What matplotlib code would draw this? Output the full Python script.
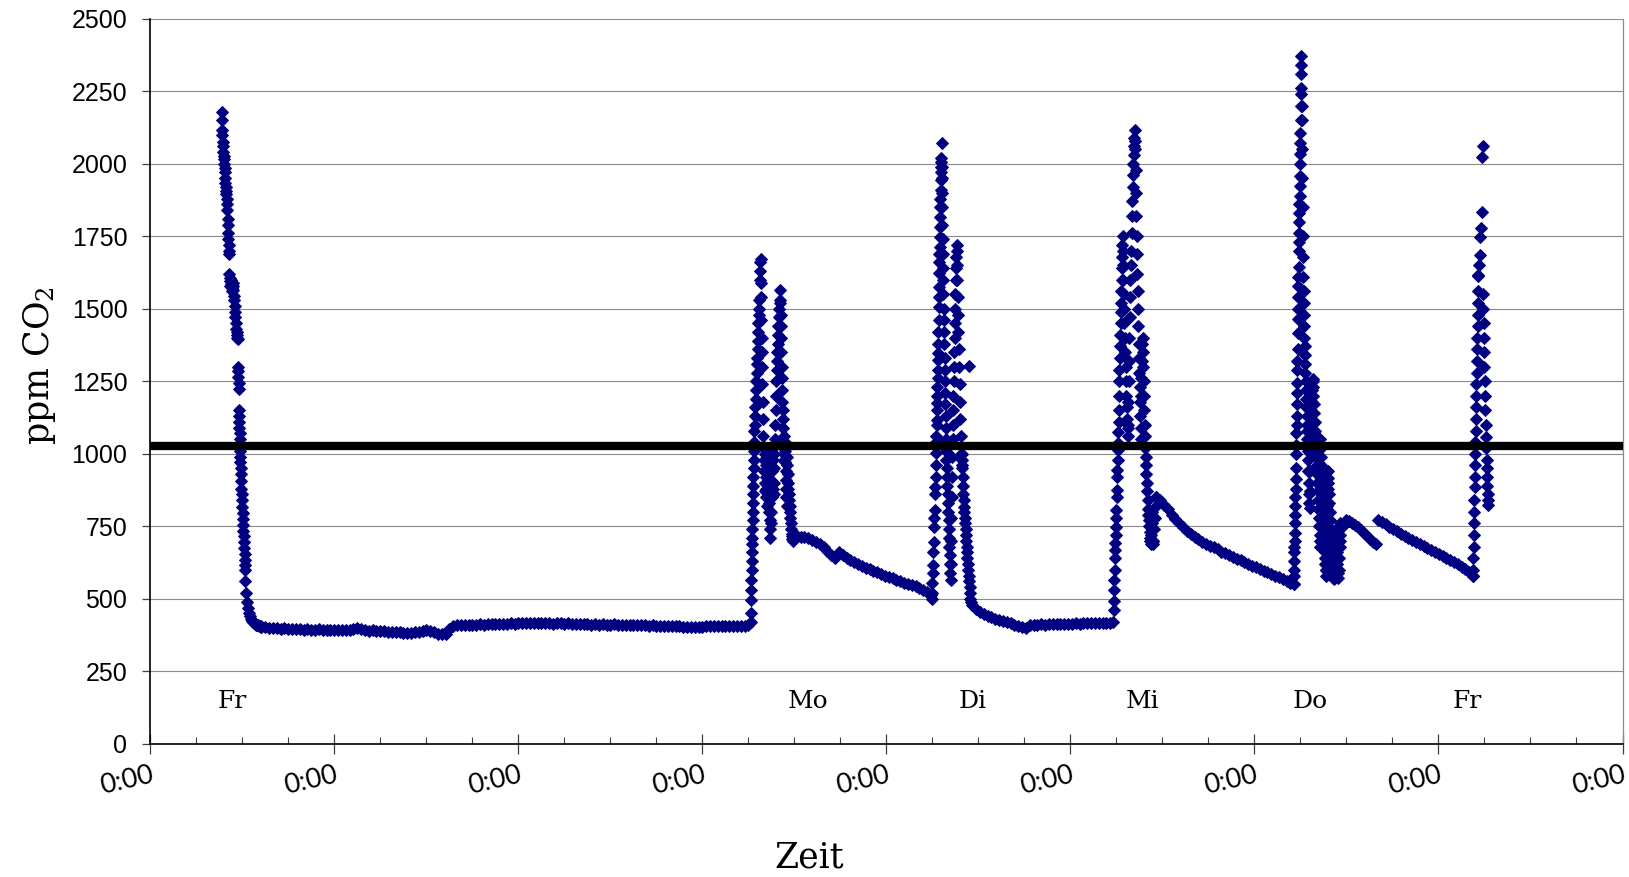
import numpy as np
import matplotlib
matplotlib.use("Agg")
import matplotlib.pyplot as plt
from matplotlib.ticker import MultipleLocator, FixedLocator

# ---------------- data (time in hours since Friday 0:00, CO2 in ppm) ----------------
fri_peak_v = [2180, 2150, 2115, 2100, 2075, 2060, 2040, 2025, 2015, 2000, 1985, 1970, 1950,
              1935, 1920, 1905, 1895, 1880, 1860, 1840, 1810, 1790, 1760, 1740, 1720, 1700, 1690]
fri_cluster_v = [1620, 1605, 1595, 1580, 1600, 1585, 1570, 1560, 1575, 1590, 1580, 1565, 1545,
                 1530, 1510, 1490, 1470, 1450, 1430, 1410, 1400, 1420, 1395]
fri_drop1_v = [1300, 1285, 1265, 1245, 1225, 1150, 1130, 1110, 1090, 1070, 1050, 1030, 1010]
fri_drop2_v = [990, 970, 950, 930, 905, 880, 860, 840, 815, 795, 775, 755, 735, 715, 695,
               675, 655, 635, 615, 600]
fri_drop3_v = [560, 520, 490, 468, 452, 440, 431, 425, 420, 416, 413, 411, 409, 408, 407, 406, 405, 404]
weekend_v = [404, 402, 400, 399,
             398, 397, 398, 396, 397, 395, 396, 394, 395, 394, 393, 395, 393, 392, 394, 392, 393, 391, 392, 393,
             397, 398, 395,
             391, 390, 391, 389, 388, 389, 387, 386, 387, 385, 383, 382, 381,
             384, 387, 390, 391, 389,
             385, 380, 377, 379,
             396, 407,
             408, 409, 410, 409, 411, 410, 412, 411, 412, 413, 412, 414, 413,
             414, 415, 414, 416, 415, 417, 416, 415, 417, 416, 415, 416, 414, 415, 416, 414, 415, 414,
             414, 413, 412, 413, 411, 412, 411, 412, 410, 411, 412, 410, 411, 409, 410, 411, 409, 408,
             408, 407, 408, 406, 407, 405, 406, 407, 405, 406, 404, 403, 404, 402, 403, 404, 405, 406,
             405, 407, 406, 405, 406, 407, 406, 405, 407, 408]
mon_a_v = [420, 450, 495, 530, 565, 600, 630, 660, 690, 710, 740, 770, 800, 830, 860, 890, 920, 950, 980]
mon_b_v = [1010, 1040, 1080, 1100, 1130, 1160, 1190, 1220, 1250, 1280, 1310, 1330, 1360, 1390, 1420,
           1450, 1480, 1500, 1530, 1600, 1630, 1660, 1670]
mon_c_v = [1590, 1540, 1460, 1400, 1350, 1300, 1240, 1180, 1120, 1060, 1020, 980, 940, 900, 870,
           1000, 960, 920, 880, 850, 820]
mon_d_v = [1010, 980, 950, 920, 890, 860, 830, 800, 770, 740, 710, 760, 800, 850, 900, 940, 980, 1020, 880, 860]
mon_e_v = [900, 950, 1000, 1050, 1100, 1150, 1200, 1250, 1290, 1320, 1350, 1380, 1410, 1440, 1470,
           1500, 1530, 1564, 1520, 1480, 1440, 1400]
mon_f_v = [1350, 1300, 1260, 1220, 1180, 1150, 1120, 1090, 1060, 1030, 1000, 980, 1040, 1010, 970,
           940, 910, 880, 850, 820]
mon_g_v = [990, 960, 930, 900, 880, 860, 840, 820, 800, 780, 760, 740, 725, 715, 705, 700]
mon_decay_v = [725, 718, 714, 712, 708, 704, 697, 688, 678, 666, 652, 642, 660, 652, 641, 633, 626,
               619, 612, 606, 601, 596, 591, 585, 580, 575, 570, 565, 560, 556, 551, 547, 543, 537,
               530, 523, 512]
tue_a_v = [500, 520, 555, 590, 617, 660, 697, 748, 780, 806, 860, 886, 920, 960, 1003]
tue_b_v = [1040, 1060, 1100, 1117, 1150, 1175, 1200, 1231, 1260, 1290, 1324, 1347, 1380, 1420, 1461,
           1507, 1540, 1576, 1623, 1660, 1690, 1714, 1749, 1783, 1818, 1850, 1880, 1909, 1944, 1970,
           1990, 2007, 2019, 2073]
tue_c_v = [1990, 1950, 1900, 1850, 1790, 1740, 1690, 1640, 1600, 1550, 1500, 1460, 1420, 1380, 1330,
           1290, 1250, 1210, 1170, 1130, 1090, 1050, 1010]
tue_d_v = [980, 950, 920, 890, 860, 830, 800, 770, 740, 710, 680, 650, 620, 590, 565]
tue_e_v = [620, 700, 780, 850, 920, 990, 1050, 1100, 1150, 1200, 1250, 1300, 1350, 1400, 1450, 1500,
           1550, 1600, 1640, 1680, 1720, 1700]
tue_f_v = [1650, 1600, 1540, 1480, 1420, 1360, 1300, 1240, 1180, 1120, 1060, 1000, 960]
tue_g_v = [1000, 980, 950, 920, 890, 860, 840, 818, 800, 780, 760, 740, 720, 700, 680, 660, 640, 620,
           600, 580, 1304, 560, 540, 520, 500, 490]
tue_decay_v = [480, 466, 456, 448, 442, 436, 431, 427, 423, 419, 415, 411, 407, 402, 400, 411, 410,
               411, 412, 411, 412, 413, 412, 413, 414, 413, 414, 415, 414, 415, 416, 415, 416, 417,
               416, 417, 418]
wed_a_v = [420, 460, 492, 530, 565, 600, 639, 668, 692, 720, 749, 780, 806, 852, 875, 921, 944, 979,
           1013, 1037, 1076, 1111]
wed_b_v = [1150, 1200, 1250, 1290, 1330, 1370, 1410, 1450, 1490, 1520, 1560, 1600, 1640, 1680, 1720, 1750]
wed_c_v = [1700, 1650, 1600, 1550, 1500, 1450, 1400, 1350, 1300, 1250, 1200, 1160, 1120, 1090, 1060]
wed_d_v = [1100, 1180, 1250, 1320, 1400, 1470, 1540, 1600, 1650, 1700, 1760, 1820, 1870, 1920, 1960,
           2000, 2030, 2060, 2090, 2117]
wed_e_v = [2080, 2050, 1980, 1900, 1820, 1750, 1690, 1620, 1560, 1500, 1440, 1380, 1330, 1280, 1230,
           1180, 1130, 1090, 1050]
wed_f_v = [1200, 1260, 1320, 1380, 1400, 1350, 1300, 1250, 1200, 1150, 1100]
wed_g_v = [1060, 1020, 990, 960, 930, 900, 870, 840, 810, 790, 770, 750, 730, 710, 700, 690, 720, 760,
           800, 740, 700, 690]
wed_h_v = [700, 740, 780, 820, 850]
wed_decay_v = [850, 840, 825, 808, 790, 775, 760, 746, 734, 723, 713, 705, 697, 690, 683, 677, 670,
               663, 657, 650, 644, 638, 632, 626, 620, 614, 608, 602, 597, 591, 585, 579, 574, 568,
               562, 556, 550]
thu_a_v = [550, 580, 600, 630, 660, 679, 700, 727, 760, 790, 820, 851, 880, 913, 950, 999, 1030, 1072, 1100]
thu_b_v = [1130, 1170, 1210, 1244, 1290, 1320, 1360, 1416, 1466, 1500, 1540, 1579, 1610, 1645, 1700,
           1730, 1760, 1799, 1830, 1860, 1890, 1922, 1959, 2000, 2034, 2070, 2107, 2150, 2200, 2242,
           2310, 2372]
thu_c_v = [2340, 2260, 2200, 2150, 2050, 1950, 1850, 1750, 1680, 1610, 1560, 1520, 1480, 1440, 1400,
           1370, 1340, 1310, 1280, 1250, 1220, 1190, 1160, 1130]
thu_d_v = [1100, 1080, 1050, 1010, 980, 940, 900, 860, 830, 813, 870, 940, 1000, 1050, 1100, 1140,
           1180, 1220, 1250]
thu_e_v = [1258, 1230, 1200, 1170, 1140, 1110, 1080, 1050, 1020, 990, 960, 930, 900, 870, 840, 810,
           780, 750, 720, 700, 680]
thu_f_v = [1050, 1020, 990, 960, 930, 900, 870, 840, 810, 780, 750, 720, 690, 660, 640, 620, 600, 580,
           600, 640, 700, 760, 820, 880, 916]
thu_g_v = [940, 900, 860, 830, 800, 770, 740, 710, 680, 650, 620, 600, 580, 570, 568, 590, 620, 650,
           680, 710, 740, 700, 660, 620, 590, 570, 600, 640, 680, 720, 760]
thu_bump_v = [700, 750, 772, 768, 762, 755, 747, 738, 728, 718, 706, 695, 688]
thu_decay_v = [772, 765, 757, 749, 741, 733, 725, 718, 711, 704, 697, 690, 683, 676, 669, 662, 655,
               648, 641, 634, 627, 619, 611, 603, 592, 580]
fri2_a_v = [580, 600, 640, 680, 720, 760, 800, 840, 885, 920, 960, 1000, 1040, 1080, 1120, 1160,
            1200, 1240, 1280, 1320, 1360, 1400, 1440, 1480, 1520, 1560, 1614]
fri2_b_v = [1618, 1650, 1686, 1747, 1778, 1832, 2024, 2061]
fri2_c_v = [1551, 1500, 1450, 1400, 1350, 1300, 1250, 1200, 1150, 1100, 1058, 1020, 980, 950, 920,
            890, 860, 840, 823]

# logging intervals (start hour, end hour) for each recorded block
segments = [
    (9.3, 10.3, fri_peak_v), (10.3, 11.4, fri_cluster_v), (11.45, 11.7, fri_drop1_v),
    (11.7, 12.4, fri_drop2_v), (12.4, 14.5, fri_drop3_v), (14.5, 78.0, weekend_v),
    (78.3, 78.7, mon_a_v), (78.7, 79.6, mon_b_v), (79.6, 80.4, mon_c_v), (80.4, 81.3, mon_d_v),
    (81.3, 82.3, mon_e_v), (82.3, 83.0, mon_f_v), (83.0, 83.8, mon_g_v), (83.8, 101.8, mon_decay_v),
    (101.9, 102.5, tue_a_v), (102.5, 103.2, tue_b_v), (103.2, 103.8, tue_c_v), (103.8, 104.4, tue_d_v),
    (104.4, 105.2, tue_e_v), (105.2, 105.8, tue_f_v), (105.8, 107.0, tue_g_v), (107.2, 125.2, tue_decay_v),
    (125.6, 126.3, wed_a_v), (126.3, 126.8, wed_b_v), (126.8, 127.5, wed_c_v), (127.5, 128.4, wed_d_v),
    (128.4, 129.2, wed_e_v), (129.2, 129.7, wed_f_v), (129.7, 130.8, wed_g_v), (130.8, 131.2, wed_h_v),
    (131.2, 149.2, wed_decay_v),
    (149.1, 149.5, thu_a_v), (149.5, 150.1, thu_b_v), (150.1, 150.8, thu_c_v), (150.8, 151.6, thu_d_v),
    (151.6, 152.6, thu_e_v), (152.6, 153.6, thu_f_v), (153.6, 155.2, thu_g_v), (155.2, 159.9, thu_bump_v),
    (160.1, 172.5, thu_decay_v),
    (172.5, 173.2, fri2_a_v), (173.2, 173.8, fri2_b_v), (173.8, 174.5, fri2_c_v),
]

day_labels = ["Fr", "Mo", "Di", "Mi", "Do", "Fr"]
day_label_hours = [10.7, 85.8, 107.3, 129.4, 151.2, 171.7]
limit_ppm = 1028
x_tick_hours = list(range(0, 193, 24))
x_tick_labels = ["0:00"] * len(x_tick_hours)
y_ticks = list(range(0, 2501, 250))

# ---------------- build series ----------------
t_all, v_all = [], []
for t0, t1, vals in segments:
    t_all.append(np.linspace(t0, t1, len(vals)))
    v_all.append(np.asarray(vals, dtype=float))
t_all = np.concatenate(t_all)
v_all = np.concatenate(v_all)

# ---------------- figure ----------------
plt.rcParams['mathtext.fontset'] = 'dejavuserif'
fig = plt.figure(figsize=(16.29, 8.77), dpi=100)
ax = fig.add_axes([150.3 / 1629, 1 - 743.8 / 877, (1622.5 - 150.3) / 1629, (743.8 - 18.7) / 877])

ax.set_xlim(0, 192)
ax.set_ylim(0, 2500)

ax.yaxis.set_major_locator(FixedLocator(y_ticks))
ax.grid(axis='y', color='#8a8a8a', linewidth=0.8, zorder=0)
ax.set_axisbelow(True)

ax.plot(t_all, v_all, linestyle='none', marker='D', ms=5.9, mew=0.7,
        color='#000080', mec='#000080', zorder=3)
ax.axhline(limit_ppm, color='black', linewidth=6, zorder=4)

for lab, h in zip(day_labels, day_label_hours):
    ax.text(h, 147, lab, ha='center', va='center', fontsize=18, family='DejaVu Serif', zorder=5)

ax.set_xticks(x_tick_hours)
ax.set_xticklabels(x_tick_labels, rotation=13, ha='right', va='top', rotation_mode='anchor',
                   fontsize=19.5, family=['Lato', 'DejaVu Sans'])
ax.xaxis.set_minor_locator(MultipleLocator(6))
ax.tick_params(axis='x', which='major', direction='inout', length=14, width=0.9,
               color='#404040', pad=6)
ax.tick_params(axis='x', which='minor', direction='in', length=5, width=0.8, color='#404040')
ax.tick_params(axis='y', which='major', direction='out', length=5.5, width=0.9,
               color='#404040', pad=11, labelsize=18)
for lab in ax.get_yticklabels():
    lab.set_family('Liberation Sans')

for s in ['left', 'bottom']:
    ax.spines[s].set_color('black')
    ax.spines[s].set_linewidth(1.2)
ax.spines['top'].set_visible(False)
ax.spines['right'].set_color('#8a8a8a')
ax.spines['right'].set_linewidth(0.9)

fig.text(39.5 / 1629, 1 - 366 / 877, r'ppm CO$_2$', rotation=90, ha='center', va='center',
         fontsize=25, family='DejaVu Serif')
fig.text(809 / 1629, 1 - 857 / 877, 'Zeit', ha='center', va='center',
         fontsize=25, family='DejaVu Serif')

fig.savefig('out.png', dpi=100)
